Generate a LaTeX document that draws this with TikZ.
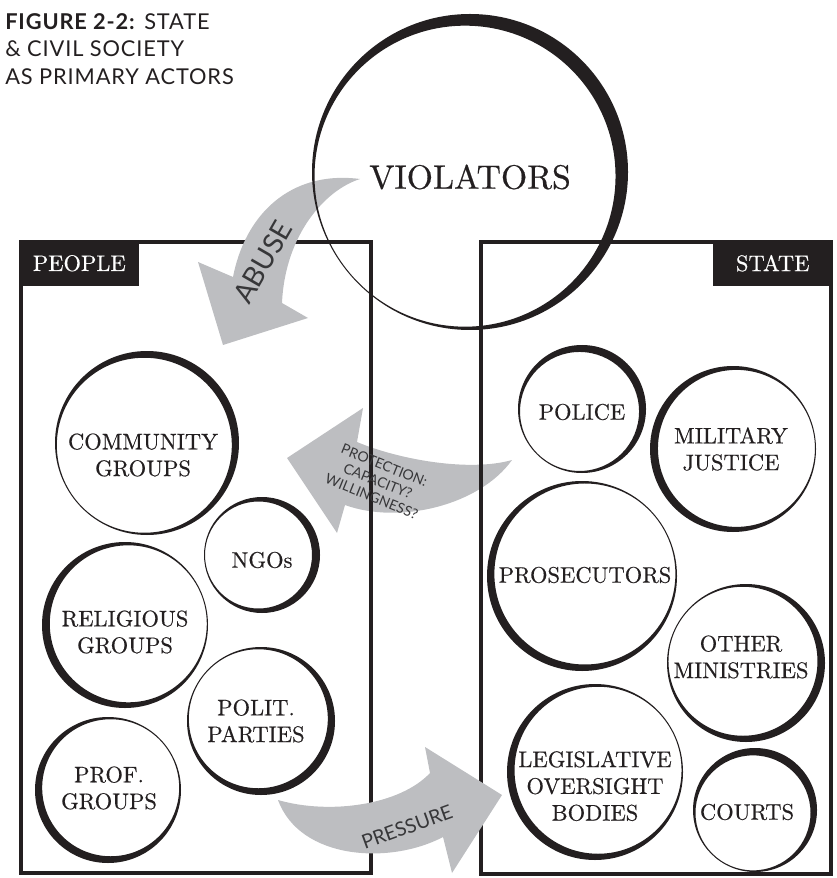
\documentclass[tikz,border=0pt]{standalone}
\usepackage{fontspec}
\setsansfont{Lato}
\newfontfamily\actorfont{lmroman10-regular.otf}[FakeBold=0.5]
\usetikzlibrary{calc}
\definecolor{ink}{RGB}{35,31,32}
\definecolor{arrowgray}{RGB}{189,190,193}
\definecolor{labelgray}{RGB}{55,55,57}

% ring with one heavy side: {centre}{radius}{angle of heavy side}{half width}
\newcommand{\ring}[4]{%
  \fill[ink, even odd rule] #1 circle [radius=#2]
    ($#1+(#3+180:#4-1)$) circle [radius=#2-#4];}

\begin{document}
\begin{tikzpicture}[
        x = 0.025cm, y = 0.025cm,
        actor/.style = {
            align = center,
            text = ink,
            inner sep = 0pt,
            font = \actorfont\fontsize{16}{19}\selectfont
        },
        tag/.style = {
            fill = ink,
            text = white,
            minimum width = 3cm,
            minimum height = 1.15cm,
            inner sep = 0pt,
            font = \actorfont\fontsize{16}{19}\selectfont
        },
        flow/.style = {
            fill = arrowgray
        },
        flowlabel/.style = {
            align = center,
            text = labelgray,
            inner sep = 0pt,
            font = \sffamily\fontsize{#1}{#1}\selectfont
        },
        flowlabel/.default = 14
        ]
%
        \useasboundingbox (0,0) rectangle (836,-878);
%
        \node[anchor=north west, align=left, text=ink, inner sep=0pt,
              font=\sffamily\addfontfeature{LetterSpace=4}\fontsize{15.5}{19.5}\selectfont]
              (title) at (5,-13)
              {\textbf{FIGURE 2-2:} STATE\\ \& CIVIL SOCIETY\\ AS PRIMARY ACTORS};
%
% protection arrow, under the boxes
        \fill[flow] (512,-460) .. controls (470,-472) and (400,-460) .. (357,-442)
                    -- (363,-408) -- (287,-458) -- (337,-533) -- (345,-505)
                    .. controls (400,-525) and (480,-505) .. (512,-460) -- cycle;
%
% boxes
        \draw[ink, line width=2.8pt] (21,-242) rectangle (371,-873);
        \draw[ink, line width=2.8pt] (481,-242) rectangle (831,-874);
        \node[tag, anchor=north west] (people) at (19,-240) {PEOPLE};
        \node[tag, anchor=north east] (state) at (833,-240) {STATE};
%
% abuse and pressure arrows
        \fill[flow] (233,-277) .. controls (245,-215) and (290,-170) .. (360,-179)
                    .. controls (325,-190) and (285,-235) .. (282,-303)
                    -- (308,-318) -- (223,-345) -- (198,-262) -- cycle;
        \fill[flow] (278,-800) .. controls (330,-815) and (400,-805) .. (430,-773)
                    -- (425,-747) -- (502,-795) -- (452,-873) -- (443,-837)
                    .. controls (390,-865) and (300,-860) .. (278,-800) -- cycle;
%
% violators
        \ring{(470,-172)}{158}{40}{7.5}
        \node[actor, font=\actorfont\fontsize{24}{28}\selectfont] (viol) at (470,-177) {VIOLATORS};
%
% people side
        \ring{(147,-443)}{92}{40}{4.5}
        \node[actor] (comm) at (143,-455) {COMMUNITY\\GROUPS};
        \ring{(262,-555)}{58}{0}{4.5}
        \node[actor] (ngo) at (262,-560) {NGOs};
        \ring{(125,-625)}{83}{200}{4.5}
        \node[actor] (relig) at (125,-632) {RELIGIOUS\\GROUPS};
        \ring{(261,-721)}{74}{-40}{4.5}
        \node[actor] (polit) at (256,-721) {POLIT.\\PARTIES};
        \ring{(108,-790)}{73}{220}{4.5}
        \node[actor] (prof) at (109,-788) {PROF.\\GROUPS};
%
% state side
        \ring{(582,-409)}{64}{45}{4.5}
        \node[actor] (police) at (582,-412) {POLICE};
        \ring{(733,-449)}{83}{190}{4.5}
        \node[actor] (milit) at (731,-449) {MILITARY\\JUSTICE};
        \ring{(582,-576)}{95}{215}{4.5}
        \node[actor] (prosec) at (585,-575) {PROSECUTORS};
        \ring{(746,-663)}{79}{-30}{4.5}
        \node[actor] (minist) at (741,-657) {OTHER\\MINISTRIES};
        \ring{(595,-772)}{88}{210}{4.5}
        \node[actor] (legis) at (595,-786) {LEGISLATIVE\\OVERSIGHT\\BODIES};
        \ring{(755,-810)}{62}{55}{4.5}
        \node[actor] (courts) at (747,-812) {COURTS};
%
% arrow labels
        \node[flowlabel=20, rotate=60] (abuse) at (263,-262) {ABUSE};
        \node[flowlabel=10, rotate=-22, font=\sffamily\fontsize{10}{12}\selectfont]
              (protect) at (378,-481) {PROTECTION:\\CAPACITY?\\WILLINGNESS?};
        \node[flowlabel, rotate=20] (press) at (407,-827) {PRESSURE};
%
\end{tikzpicture}
\end{document}
